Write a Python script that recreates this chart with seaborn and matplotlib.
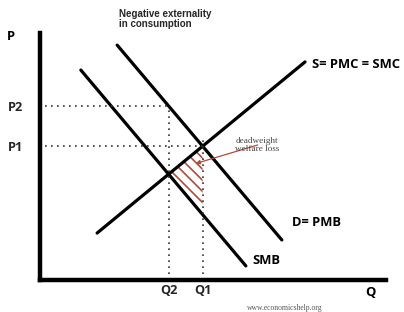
import numpy as np
import pandas as pd
import matplotlib
matplotlib.use("Agg")
import matplotlib.pyplot as plt
import seaborn as sns

# --- curve endpoints (data units, origin at the axes corner) ---
supply_x = [1.65, 7.66]
supply_y = [1.90, 8.83]
pmb_x = [2.23, 6.99]
pmb_y = [9.51, 1.62]
smb_x = [1.18, 5.95]
smb_y = [8.50, 0.57]

curve_labels = ["S= PMC = SMC", "D= PMB", "SMB"]
price_labels = ["P1", "P2"]
qty_labels = ["Q2", "Q1"]

BROWN = "#b24a3a"
LABEL_FONT = ["Open Sans", "DejaVu Sans"]

sns.set_theme(style="white")
plt.rcParams["font.family"] = LABEL_FONT
plt.rcParams["hatch.linewidth"] = 1.2


def line_fn(xs, ys):
    m = (ys[1] - ys[0]) / (xs[1] - xs[0])
    return lambda x: ys[0] + m * (np.asarray(x) - xs[0]), m


def cross(xa, ya, xb, yb):
    fa, ma = line_fn(xa, ya)
    fb, mb = line_fn(xb, yb)
    x = (fb(0) - fa(0)) / (ma - mb)
    return x, float(fa(x))


S, _ = line_fn(supply_x, supply_y)
D, _ = line_fn(pmb_x, pmb_y)
SMB, _ = line_fn(smb_x, smb_y)
q1, p1 = cross(supply_x, supply_y, pmb_x, pmb_y)
q2, _ = cross(supply_x, supply_y, smb_x, smb_y)
p2 = float(D(q2))

fig = plt.figure(figsize=(4.04, 3.12), dpi=100)
ax = fig.add_axes([40 / 404, 32 / 312, 346 / 404, 247 / 312])
ax.set_xlim(0, 10)
ax.set_ylim(0, 10)

curves = pd.DataFrame({
    "x": supply_x + pmb_x + smb_x,
    "y": supply_y + pmb_y + smb_y,
    "curve": ["S"] * 2 + ["D"] * 2 + ["SMB"] * 2,
})
sns.lineplot(data=curves, x="x", y="y", units="curve", estimator=None,
             color="black", lw=2.3, ax=ax, legend=False, sort=False)

# dotted guides
dot = dict(color="#333333", lw=1.2, ls=(0, (1, 2.6)))
ax.plot([0.15, q1], [p1, p1], **dot)
ax.plot([0.15, q2], [p2, p2], **dot)
ax.plot([q1, q1], [0, p1 + 0.25], **dot)
ax.plot([q2, q2], [0, p2], **dot)

# deadweight welfare loss
xs = np.linspace(q2, q1, 50)
ax.fill_between(xs, SMB(xs), S(xs), facecolor="none", edgecolor=BROWN,
                hatch="\\\\\\", lw=0)
ax.annotate("deadweight\nwelfare loss", xy=(q1 - 0.2, p1 - 0.7),
            xytext=(5.65, p1 + 0.05), fontsize=6.6, family="Liberation Serif",
            color="#444444", linespacing=1.0, va="center",
            arrowprops=dict(arrowstyle="-|>", color=BROWN, lw=0.9,
                            mutation_scale=6, shrinkA=0, shrinkB=0,
                            patchA=None))

# axes and labels
for side in ["top", "right"]:
    ax.spines[side].set_visible(False)
for side in ["left", "bottom"]:
    ax.spines[side].set_linewidth(3.2)
    ax.spines[side].set_color("black")
ax.set_yticks([p1, p2], price_labels)
ax.set_xticks([q2, q1], qty_labels)
ax.tick_params(axis="y", length=0, pad=12, labelsize=9.2)
ax.tick_params(axis="x", length=0, pad=3, labelsize=9.2)
for t in ax.get_xticklabels() + ax.get_yticklabels():
    t.set_fontweight("bold")
ax.set_xlabel("")
ax.set_ylabel("")

lab = dict(fontsize=9.4, fontweight="bold", color="black")
ax.text(-0.85, 9.85, "P", ha="center", va="center", **lab)
ax.text(9.55, -0.5, "Q", ha="center", va="center", **lab)
ax.text(supply_x[1] + 0.2, supply_y[1] - 0.1, curve_labels[0], ha="left", va="center", **lab)
ax.text(pmb_x[1] + 0.28, pmb_y[1] + 0.7, curve_labels[1], ha="left", va="center", **lab)
ax.text(smb_x[1] + 0.2, smb_y[1] + 0.2, curve_labels[2], ha="left", va="center", **lab)

fig.text(119 / 404, 1 - 19 / 312, "Negative externality\nin consumption", fontsize=7.0,
         fontweight="bold", ha="left", va="center", linespacing=1.05,
         family=["Liberation Sans", "DejaVu Sans"])
fig.text(285 / 404, 1 - 308 / 312, "www.economicshelp.org", fontsize=5.5,
         family="Liberation Serif", color="#555555", ha="center", va="center")

fig.savefig("out.png", dpi=100)
